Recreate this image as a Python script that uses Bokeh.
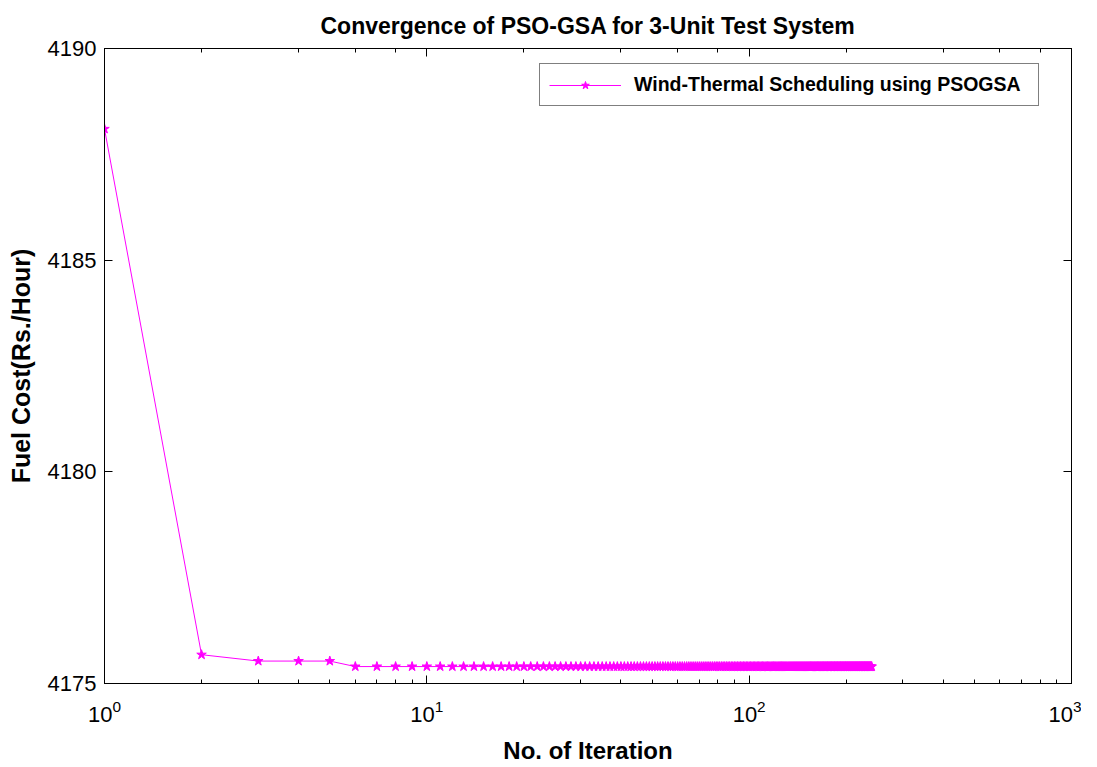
from bokeh.plotting import figure
from bokeh.models import (LogAxis, LinearAxis, FixedTicker, Range1d, Legend,
                          LegendItem, ColumnDataSource, CustomJSTickFormatter)
from bokeh.embed import file_html
from bokeh.resources import INLINE

title_text = "Convergence of PSO-GSA for 3-Unit Test System"
x_label = "No. of Iteration"
y_label = "Fuel Cost(Rs./Hour)"
series_name = "Wind-Thermal Scheduling using PSOGSA"
y_ticks = [4175, 4180, 4185, 4190]

fuel_cost = [
    4188.10, 4175.68, 4175.53, 4175.53, 4175.53,
    4175.40, 4175.40, 4175.40, 4175.40, 4175.40, 4175.40, 4175.40, 4175.40, 4175.40, 4175.40,
    4175.40, 4175.40, 4175.40, 4175.40, 4175.40, 4175.40, 4175.40, 4175.40, 4175.40, 4175.40,
    4175.40, 4175.40, 4175.40, 4175.40, 4175.40, 4175.40, 4175.40, 4175.40, 4175.40, 4175.40,
    4175.40, 4175.40, 4175.40, 4175.40, 4175.40, 4175.40, 4175.40, 4175.40, 4175.40, 4175.40,
    4175.40, 4175.40, 4175.40, 4175.40, 4175.40, 4175.40, 4175.40, 4175.40, 4175.40, 4175.40,
    4175.40, 4175.40, 4175.40, 4175.40, 4175.40, 4175.40, 4175.40, 4175.40, 4175.40, 4175.40,
    4175.40, 4175.40, 4175.40, 4175.40, 4175.40, 4175.40, 4175.40, 4175.40, 4175.40, 4175.40,
    4175.40, 4175.40, 4175.40, 4175.40, 4175.40, 4175.40, 4175.40, 4175.40, 4175.40, 4175.40,
    4175.40, 4175.40, 4175.40, 4175.40, 4175.40, 4175.40, 4175.40, 4175.40, 4175.40, 4175.40,
    4175.40, 4175.40, 4175.40, 4175.40, 4175.40, 4175.40, 4175.40, 4175.40, 4175.40, 4175.40,
    4175.40, 4175.40, 4175.40, 4175.40, 4175.40, 4175.40, 4175.40, 4175.40, 4175.40, 4175.40,
    4175.40, 4175.40, 4175.40, 4175.40, 4175.40, 4175.40, 4175.40, 4175.40, 4175.40, 4175.40,
    4175.40, 4175.40, 4175.40, 4175.40, 4175.40, 4175.40, 4175.40, 4175.40, 4175.40, 4175.40,
    4175.40, 4175.40, 4175.40, 4175.40, 4175.40, 4175.40, 4175.40, 4175.40, 4175.40, 4175.40,
    4175.40, 4175.40, 4175.40, 4175.40, 4175.40, 4175.40, 4175.40, 4175.40, 4175.40, 4175.40,
    4175.40, 4175.40, 4175.40, 4175.40, 4175.40, 4175.40, 4175.40, 4175.40, 4175.40, 4175.40,
    4175.40, 4175.40, 4175.40, 4175.40, 4175.40, 4175.40, 4175.40, 4175.40, 4175.40, 4175.40,
    4175.40, 4175.40, 4175.40, 4175.40, 4175.40, 4175.40, 4175.40, 4175.40, 4175.40, 4175.40,
    4175.40, 4175.40, 4175.40, 4175.40, 4175.40, 4175.40, 4175.40, 4175.40, 4175.40, 4175.40,
    4175.40, 4175.40, 4175.40, 4175.40, 4175.40, 4175.40, 4175.40, 4175.40, 4175.40, 4175.40,
    4175.40, 4175.40, 4175.40, 4175.40, 4175.40, 4175.40, 4175.40, 4175.40, 4175.40, 4175.40,
    4175.40, 4175.40, 4175.40, 4175.40, 4175.40, 4175.40, 4175.40, 4175.40, 4175.40, 4175.40,
    4175.40, 4175.40, 4175.40, 4175.40, 4175.40, 4175.40, 4175.40, 4175.40, 4175.40, 4175.40,
    4175.40, 4175.40, 4175.40, 4175.40, 4175.40,
]
iterations = list(range(1, len(fuel_cost) + 1))

FONT = "Liberation Sans"
MAGENTA = "#ff00ff"

p = figure(x_axis_type="log", x_range=Range1d(1, 1000), y_range=Range1d(4175, 4190),
           frame_width=967, frame_height=635,
           min_border_left=104, min_border_right=10, min_border_top=47, min_border_bottom=70,
           output_backend="svg", toolbar_location=None, title=title_text)
p.background_fill_color = "white"
p.border_fill_color = "white"
p.grid.visible = False
p.outline_line_color = "black"
p.outline_line_width = 1

p.title.align = "center"
p.title.text_font = FONT
p.title.text_font_size = "23px"
p.title.text_font_style = "bold"
p.title.text_color = "black"
p.title.standoff = 20

src = ColumnDataSource(dict(x=iterations, y=fuel_cost))
ln = p.line("x", "y", source=src, line_color=MAGENTA, line_width=1)
mk = p.scatter("x", "y", source=src, marker="star", size=10, line_color=MAGENTA,
               fill_color=MAGENTA, line_width=1)

p.yaxis.ticker = FixedTicker(ticks=y_ticks)

for ax in [p.xaxis[0], p.yaxis[0]]:
    ax.major_tick_in = 8
    ax.major_tick_out = 0
    ax.minor_tick_in = 4
    ax.minor_tick_out = 0
    ax.axis_line_color = "black"
    ax.major_tick_line_color = "black"
    ax.minor_tick_line_color = "black"
    ax.major_label_text_font = FONT
    ax.major_label_text_font_size = "22px"
    ax.major_label_text_color = "black"
    ax.axis_label_text_font = FONT
    ax.axis_label_text_font_size = "24px"
    ax.axis_label_text_font_style = "bold"
    ax.axis_label_text_color = "black"
p.yaxis.minor_tick_in = 0
p.xaxis.axis_label = x_label
p.yaxis.axis_label = y_label
p.yaxis.axis_label_text_font_size = "25px"
p.xaxis.major_label_standoff = 16
p.yaxis.major_label_standoff = 8
p.xaxis.axis_label_standoff = 12
p.yaxis.axis_label_standoff = 10

blank = CustomJSTickFormatter(code="return '';")
top = LogAxis(formatter=blank)
right = LinearAxis(ticker=FixedTicker(ticks=y_ticks), formatter=blank)
for ax in [top, right]:
    ax.major_tick_in = 8
    ax.major_tick_out = 0
    ax.minor_tick_in = 4
    ax.minor_tick_out = 0
    ax.major_label_standoff = 0
    ax.axis_line_color = "black"
right.minor_tick_in = 0
p.add_layout(top, "above")
p.add_layout(right, "right")

legend = Legend(items=[LegendItem(label=series_name, renderers=[ln, mk])],
                location=(435, 577), glyph_width=72, label_standoff=13,
                label_width=395, padding=9, spacing=0, margin=0,
                border_line_color="black", border_line_width=1,
                label_text_font=FONT, label_text_font_size="19.5px",
                label_text_font_style="bold", label_text_color="black",
                background_fill_color="white", background_fill_alpha=1)
p.add_layout(legend)

open("out.html", "w").write(file_html(p, INLINE))
